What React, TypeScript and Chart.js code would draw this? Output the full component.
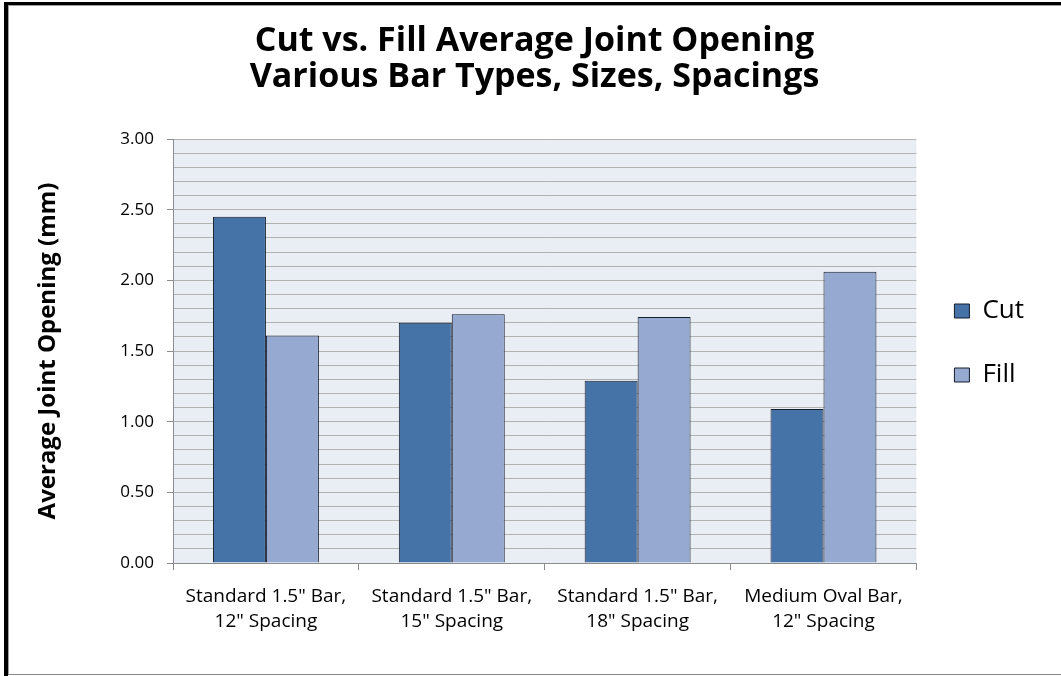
import { useEffect, useRef } from "react";
import { Chart, registerables } from "chart.js";

Chart.register(...registerables);

// Category labels (two lines each) and the two series
const categories: string[][] = [
  ['Standard 1.5" Bar,', '12" Spacing'],
  ['Standard 1.5" Bar,', '15" Spacing'],
  ['Standard 1.5" Bar,', '18" Spacing'],
  ['Medium Oval Bar,', '12" Spacing'],
];
const cutValues: number[] = [2.45, 1.7, 1.29, 1.09];
const fillValues: number[] = [1.61, 1.76, 1.74, 2.06];
const seriesNames: string[] = ["Cut", "Fill"];

const titleLines: string[] = [
  "Cut vs. Fill Average Joint Opening",
  "Various Bar Types, Sizes, Spacings",
];
const yAxisTitle = "Average Joint Opening (mm)";

// Value axis: minor gridlines every 0.1, labelled every 0.5
const yMin = 0;
const yMax = 3;
const yMinorStep = 0.1;
const yLabelStep = 0.5;

const FONT = "'Open Sans', sans-serif";
const AXIS_GREY = "#8c8c8c";
const GRID_GREY = "#b2b2b2";

const isLabelled = (v: number) =>
  Math.abs(Math.round(v / yLabelStep) * yLabelStep - v) < 1e-6;

const plotBackground = {
  id: "plotBackground",
  beforeDraw(chart: any) {
    const { ctx, chartArea } = chart;
    ctx.save();
    ctx.fillStyle = "#e9edf4";
    ctx.fillRect(chartArea.left, chartArea.top, chartArea.width, chartArea.height);
    ctx.restore();
  },
};

export default function App() {
  const canvasRef = useRef<HTMLCanvasElement | null>(null);

  useEffect(() => {
    if (!canvasRef.current) return;
    Chart.defaults.font.family = FONT;
    Chart.defaults.color = "#000";

    const chart = new Chart(canvasRef.current, {
      type: "bar",
      data: {
        labels: categories,
        datasets: [
          {
            label: seriesNames[0],
            data: cutValues,
            backgroundColor: "#4572a7",
            borderColor: "#141c2a",
            borderWidth: 1,
            categoryPercentage: 0.57,
            barPercentage: 1,
          },
          {
            label: seriesNames[1],
            data: fillValues,
            backgroundColor: "#95a9d1",
            borderColor: "#141c2a",
            borderWidth: 1,
            categoryPercentage: 0.57,
            barPercentage: 1,
          },
        ],
      },
      options: {
        responsive: false,
        animation: false,
        events: [],
        layout: { padding: { left: 35, right: 27, top: 16, bottom: 6 } },
        plugins: {
          title: {
            display: true,
            text: titleLines,
            color: "#000",
            font: { family: FONT, size: 34, weight: "bold", lineHeight: 36 / 34 },
            padding: { top: 7, bottom: 44 },
          },
          legend: {
            position: "right",
            align: "center",
            labels: {
              boxWidth: 15,
              boxHeight: 14,
              padding: 38,
              color: "#000",
              font: { family: FONT, size: 26 },
            },
          },
          tooltip: { enabled: false },
        },
        scales: {
          x: {
            grid: {
              display: true,
              drawOnChartArea: false,
              drawTicks: true,
              tickLength: 7,
              offset: true,
              color: AXIS_GREY,
              tickColor: AXIS_GREY,
            },
            border: { color: AXIS_GREY },
            ticks: {
              color: "#000",
              font: { family: FONT, size: 19, lineHeight: 25 / 19 },
              padding: 14,
              maxRotation: 0,
              autoSkip: false,
            },
            afterFit: (scale: any) => {
              scale.height = 107;
            },
          },
          y: {
            min: yMin,
            max: yMax,
            grid: {
              color: GRID_GREY,
              tickLength: 6,
              tickColor: (ctx: any) =>
                ctx.tick && isLabelled(ctx.tick.value) ? AXIS_GREY : "rgba(0,0,0,0)",
            },
            border: { color: AXIS_GREY },
            ticks: {
              stepSize: yMinorStep,
              autoSkip: false,
              padding: 13,
              color: "#000",
              font: { family: FONT, size: 17 },
              callback: (v: any) => (isLabelled(Number(v)) ? Number(v).toFixed(2) : ""),
            },
            title: {
              display: true,
              text: yAxisTitle,
              color: "#000",
              font: { family: FONT, size: 24, weight: "bold", lineHeight: 1.1 },
              padding: { top: 0, bottom: 0 },
            },
            afterFit: (scale: any) => {
              scale.width = 138;
            },
          },
        },
      },
      plugins: [plotBackground],
    });

    return () => chart.destroy();
  }, []);

  return (
    <div
      style={{
        position: "fixed",
        left: 0,
        top: 0,
        width: 1061,
        height: 676,
        background: "#fff",
        overflow: "hidden",
      }}
    >
      <canvas
        ref={canvasRef}
        width={1061}
        height={676}
        style={{ position: "absolute", left: 0, top: 0 }}
      />
      {/* chart frame */}
      <div style={{ position: "absolute", left: 4, top: 2, right: 0, height: 3, background: "#000" }} />
      <div style={{ position: "absolute", left: 4, top: 2, width: 4, bottom: 0, background: "#000" }} />
      <div style={{ position: "absolute", left: 8, top: 5, right: 0, height: 1, background: "#a0a0a0" }} />
      <div style={{ position: "absolute", left: 8, top: 5, width: 1, bottom: 1, background: "#a0a0a0" }} />
      <div style={{ position: "absolute", left: 8, top: 674, right: 0, height: 1, background: "#8a8a8a" }} />
    </div>
  );
}
